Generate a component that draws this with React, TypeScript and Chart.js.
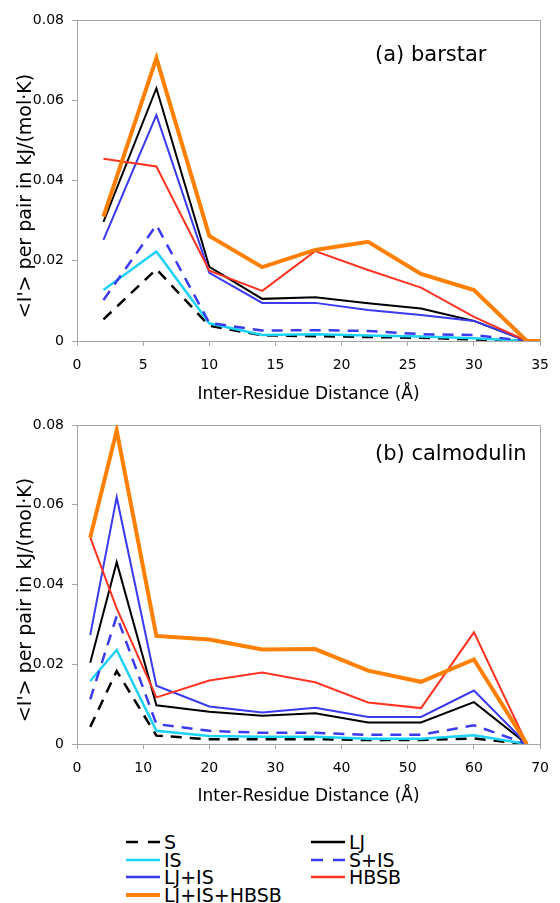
import React, { useEffect, useRef } from 'react';
import { Chart, registerables } from 'chart.js';

Chart.register(...registerables);

const FONT = "'DejaVu Sans', Verdana, sans-serif";

// ---- series meta ----
const seriesNames = ['S', 'LJ', 'IS', 'S+IS', 'LJ+IS', 'HBSB', 'LJ+IS+HBSB'];
const seriesColors = ['#000000', '#000000', '#1CD2F6', '#3A3AF0', '#3A3AF0', '#FF3322', '#FF8000'];
const seriesDash = [[11, 8], [], [], [11, 8], [], [], []];
const seriesWidth = [2.5, 2, 2.5, 2.5, 2, 2, 4];

// ---- (a) barstar ----
const barstarX = [2, 6, 10, 14, 18, 22, 26, 30, 34];
const barstarAllX = [2, 6, 10, 14, 18, 22, 26, 30, 34, 35];
const barstarS = [0.0054, 0.0179, 0.0038, 0.0014, 0.0012, 0.001, 0.0008, 0.0004, 0];
const barstarLJ = [0.0297, 0.063, 0.0185, 0.0105, 0.0109, 0.0094, 0.0081, 0.005, 0];
const barstarIS = [0.0127, 0.0223, 0.0044, 0.0015, 0.0017, 0.0014, 0.0011, 0.0007, 0];
const barstarSIS = [0.0102, 0.0289, 0.0045, 0.0026, 0.0027, 0.0025, 0.0017, 0.0015, 0];
const barstarLJIS = [0.0252, 0.0563, 0.017, 0.0095, 0.0095, 0.0077, 0.0065, 0.005, 0];
const barstarHBSB = [0.0454, 0.0435, 0.0175, 0.0125, 0.0224, 0.0177, 0.0133, 0.006, 0];
const barstarAll = [0.031, 0.0705, 0.0262, 0.0184, 0.0227, 0.0247, 0.0167, 0.0127, 0, 0];

// ---- (b) calmodulin ----
const calX = [2, 6, 12, 20, 28, 36, 44, 52, 60, 68];
const calS = [0.0043, 0.0183, 0.0021, 0.0012, 0.0012, 0.0012, 0.001, 0.001, 0.0014, 0];
const calLJ = [0.0204, 0.0456, 0.0097, 0.0081, 0.0071, 0.0077, 0.0054, 0.0054, 0.0105, 0];
const calIS = [0.0158, 0.0236, 0.0033, 0.002, 0.0018, 0.0018, 0.0013, 0.0013, 0.0022, 0];
const calSIS = [0.0112, 0.0321, 0.005, 0.0033, 0.0028, 0.0028, 0.0023, 0.0023, 0.0047, 0];
const calLJIS = [0.0273, 0.0619, 0.0146, 0.0094, 0.0079, 0.0091, 0.0068, 0.0068, 0.0134, 0];
const calHBSB = [0.0518, 0.034, 0.0117, 0.0159, 0.0179, 0.0155, 0.0104, 0.009, 0.028, 0];
const calAll = [0.0518, 0.0786, 0.0271, 0.0262, 0.0237, 0.0238, 0.0184, 0.0156, 0.0212, 0];

// ---- axes ----
const yTicks = [0, 0.02, 0.04, 0.06, 0.08];
const barstarXTicks = [0, 5, 10, 15, 20, 25, 30, 35];
const calXTicks = [0, 10, 20, 30, 40, 50, 60, 70];
const xTitle = 'Inter-Residue Distance (Å)';
const yTitle = "<I'> per pair in kJ/(mol·K)";

const AXIS_GRAY = '#A6A6A6';

const borderPlugin = {
  id: 'plotBorder',
  beforeDatasetsDraw(chart: any) {
    const { ctx, chartArea } = chart;
    ctx.save();
    ctx.strokeStyle = AXIS_GRAY;
    ctx.lineWidth = 1;
    ctx.strokeRect(
      Math.round(chartArea.left) + 0.5,
      Math.round(chartArea.top) + 0.5,
      Math.round(chartArea.right - chartArea.left),
      Math.round(chartArea.bottom - chartArea.top)
    );
    ctx.restore();
  },
};

type PanelProps = {
  xsList: number[][];
  ysList: number[][];
  xTicks: number[];
  height: number;
  xAxisHeight: number;
  titlePad: number;
};

function Panel({ xsList, ysList, xTicks, height, xAxisHeight, titlePad }: PanelProps) {
  const ref = useRef<HTMLCanvasElement | null>(null);
  useEffect(() => {
    if (!ref.current) return;
    const n = seriesNames.length;
    const datasets = seriesNames.map((name, i) => ({
      label: name,
      data: xsList[i].map((x, j) => ({ x, y: ysList[i][j] })),
      borderColor: seriesColors[i],
      backgroundColor: seriesColors[i],
      borderWidth: seriesWidth[i],
      borderDash: seriesDash[i],
      pointRadius: 0,
      tension: 0,
      fill: false,
      order: n - i,
    }));
    const chart = new Chart(ref.current, {
      type: 'line',
      data: { datasets },
      options: {
        animation: false,
        responsive: false,
        events: [],
        layout: { padding: { top: 20, right: 12, left: 0, bottom: 0 } },
        plugins: { legend: { display: false }, tooltip: { enabled: false } },
        scales: {
          x: {
            type: 'linear',
            min: xTicks[0],
            max: xTicks[xTicks.length - 1],
            afterBuildTicks: (scale: any) => {
              scale.ticks = xTicks.map((v) => ({ value: v }));
            },
            afterFit: (scale: any) => {
              scale.height = xAxisHeight;
            },
            ticks: {
              padding: 11,
              color: '#000',
              font: { family: FONT, size: 14 },
              maxRotation: 0,
              autoSkip: false,
            },
            grid: { drawOnChartArea: false, drawTicks: true, tickLength: 5, color: AXIS_GRAY },
            border: { display: true, color: AXIS_GRAY },
            title: {
              display: true,
              text: xTitle,
              color: '#000',
              font: { family: FONT, size: 17 },
              padding: { top: 0, bottom: titlePad },
            },
          },
          y: {
            type: 'linear',
            min: yTicks[0],
            max: yTicks[yTicks.length - 1],
            afterBuildTicks: (scale: any) => {
              scale.ticks = yTicks.map((v) => ({ value: v }));
            },
            afterFit: (scale: any) => {
              scale.width = 77;
            },
            ticks: {
              padding: 8,
              color: '#000',
              font: { family: FONT, size: 14 },
              callback: (v: any) => (Number(v) === 0 ? '0' : Number(v).toFixed(2)),
            },
            grid: { drawOnChartArea: false, drawTicks: true, tickLength: 5, color: AXIS_GRAY },
            border: { display: true, color: AXIS_GRAY },
          },
        },
      },
      plugins: [borderPlugin],
    } as any);
    return () => chart.destroy();
  }, []);
  return <canvas ref={ref} width={560} height={height} style={{ display: 'block' }} />;
}

const abs = (o: React.CSSProperties): React.CSSProperties => ({ position: 'absolute', ...o });

function YTitle({ cy }: { cy: number }) {
  return (
    <div
      style={abs({
        left: 24,
        top: cy,
        transform: 'translate(-50%, -50%) rotate(-90deg)',
        whiteSpace: 'nowrap',
        fontFamily: FONT,
        fontSize: 19,
        lineHeight: '22px',
        color: '#000',
      })}
    >
      {yTitle}
    </div>
  );
}

function Legend() {
  return (
    <>
      {seriesNames.map((name, i) => {
        const col = i % 2;
        const row = Math.floor(i / 2);
        const left = col === 0 ? 126 : 311;
        const cy = 842 + row * 17.5;
        const dash = seriesDash[i].length ? '12 10' : undefined;
        return (
          <div key={name} style={abs({ left, top: cy - 9, height: 18, display: 'flex', alignItems: 'center' })}>
            <svg width={34} height={8} style={{ display: 'block' }}>
              <line
                x1={0}
                y1={4}
                x2={34}
                y2={4}
                stroke={seriesColors[i]}
                strokeWidth={i === 6 ? 4 : 2.5}
                strokeDasharray={dash}
              />
            </svg>
            <span
              style={{
                marginLeft: 4,
                fontFamily: FONT,
                fontSize: 19,
                lineHeight: '18px',
                color: '#000',
                whiteSpace: 'nowrap',
              }}
            >
              {name}
            </span>
          </div>
        );
      })}
    </>
  );
}

export default function App() {
  useEffect(() => {
    document.body.style.margin = '0';
    document.body.style.background = '#fff';
  }, []);
  const barstarXs = [barstarX, barstarX, barstarX, barstarX, barstarX, barstarX, barstarAllX];
  const barstarYs = [barstarS, barstarLJ, barstarIS, barstarSIS, barstarLJIS, barstarHBSB, barstarAll];
  const calXs = [calX, calX, calX, calX, calX, calX, calX];
  const calYs = [calS, calLJ, calIS, calSIS, calLJIS, calHBSB, calAll];
  return (
    <div style={{ position: 'relative', width: 560, height: 903, overflow: 'hidden', background: '#fff' }}>
      <div style={abs({ left: 0, top: 0 })}>
        <Panel xsList={barstarXs} ysList={barstarYs} xTicks={barstarXTicks} height={405} xAxisHeight={64} titlePad={0} />
      </div>
      <div style={abs({ left: 0, top: 405 })}>
        <Panel xsList={calXs} ysList={calYs} xTicks={calXTicks} height={410} xAxisHeight={71} titlePad={8} />
      </div>
      <YTitle cy={196} />
      <YTitle cy={600} />
      <div style={abs({ left: 375, top: 42, fontFamily: FONT, fontSize: 21, lineHeight: '24px', whiteSpace: 'nowrap' })}>
        (a) barstar
      </div>
      <div style={abs({ left: 375, top: 441, fontFamily: FONT, fontSize: 21, lineHeight: '24px', whiteSpace: 'nowrap' })}>
        (b) calmodulin
      </div>
      <Legend />
    </div>
  );
}
